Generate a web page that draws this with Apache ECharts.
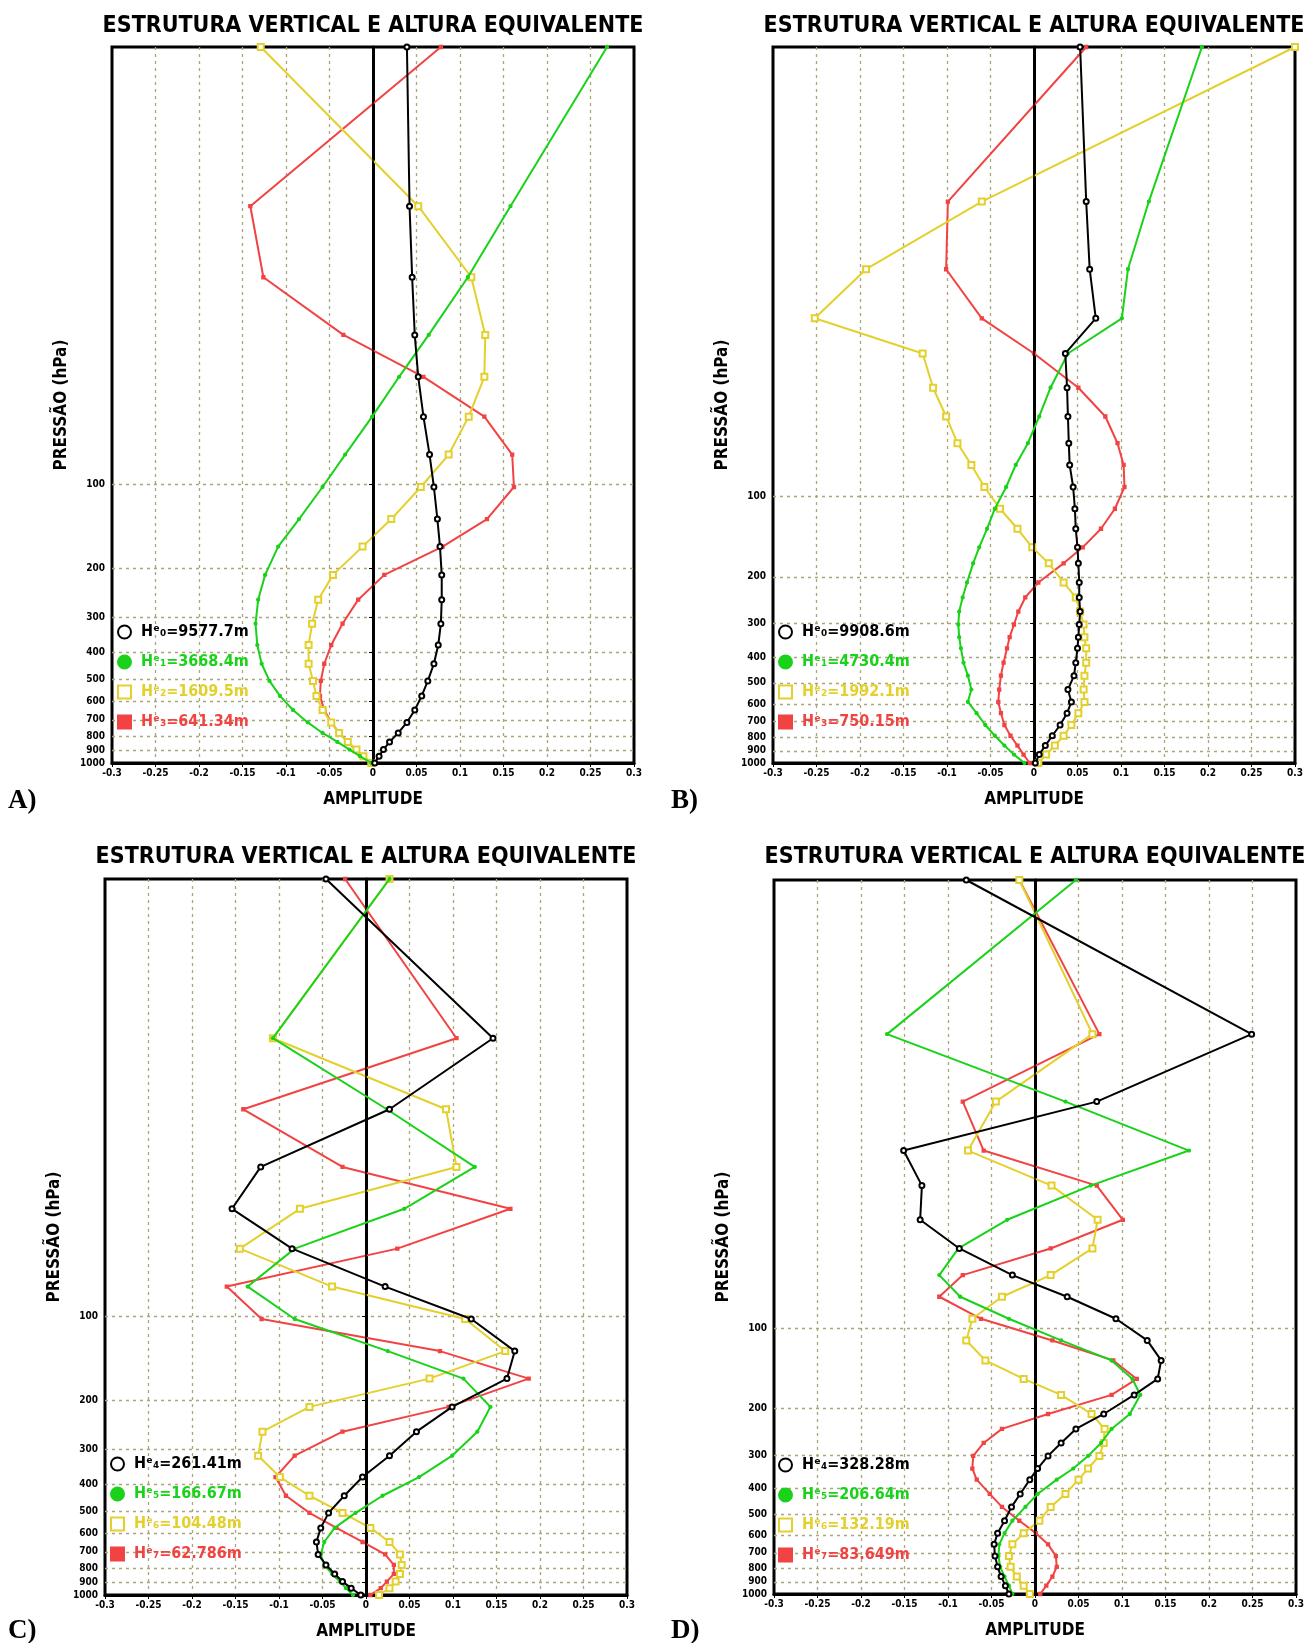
<!DOCTYPE html>
<html><head><meta charset="utf-8">
<script src="https://cdn.jsdelivr.net/npm/echarts@6/dist/echarts.min.js"></script>
<style>html,body{margin:0;padding:0;background:#fff}#c{width:1307px;height:1643px}</style>
</head><body><div id="c"></div>
<script>
// Pressure levels (hPa)
const levelsAC = [2.68, 10, 18, 29, 41, 57, 78, 102, 133, 167, 211, 259, 316, 377, 440, 507, 574, 645, 715, 780, 840, 895, 945, 1000];
const levelsBD = [2.05, 7.8, 14, 21.4, 29, 39, 50, 63, 76, 92, 111, 132, 155, 178, 210, 239, 270, 302, 337, 371, 420, 470, 530, 590, 650, 720, 790, 860, 930, 1000];
const pressureTicks = [100, 200, 300, 400, 500, 600, 700, 800, 900, 1000];

// Panel A (modes 0-3)
const A_H0 = [0.039, 0.042, 0.045, 0.048, 0.052, 0.058, 0.065, 0.070, 0.074, 0.077, 0.079, 0.079, 0.078, 0.075, 0.070, 0.063, 0.056, 0.048, 0.039, 0.029, 0.019, 0.012, 0.007, 0.002];
const A_H1 = [0.269, 0.158, 0.109, 0.064, 0.030, -0.001, -0.032, -0.058, -0.085, -0.109, -0.124, -0.132, -0.135, -0.133, -0.128, -0.119, -0.107, -0.092, -0.075, -0.058, -0.041, -0.027, -0.015, -0.002];
const A_H2 = [-0.129, 0.052, 0.113, 0.129, 0.128, 0.110, 0.087, 0.055, 0.021, -0.012, -0.046, -0.063, -0.070, -0.074, -0.074, -0.069, -0.065, -0.058, -0.048, -0.039, -0.029, -0.019, -0.011, -0.002];
const A_H3 = [0.078, -0.141, -0.126, -0.034, 0.058, 0.128, 0.160, 0.162, 0.131, 0.080, 0.013, -0.017, -0.035, -0.048, -0.056, -0.060, -0.061, -0.056, -0.048, -0.039, -0.029, -0.020, -0.012, -0.002];
// Panel B (modes 0-3)
const B_H0 = [0.053, 0.060, 0.064, 0.071, 0.036, 0.038, 0.039, 0.040, 0.041, 0.045, 0.047, 0.048, 0.050, 0.051, 0.052, 0.052, 0.053, 0.052, 0.051, 0.050, 0.048, 0.046, 0.039, 0.043, 0.038, 0.030, 0.021, 0.013, 0.006, 0.0015];
const B_H1 = [0.193, 0.132, 0.108, 0.101, 0.039, 0.019, 0.006, -0.007, -0.021, -0.032, -0.045, -0.054, -0.063, -0.070, -0.077, -0.082, -0.086, -0.087, -0.086, -0.084, -0.081, -0.076, -0.072, -0.076, -0.066, -0.056, -0.045, -0.034, -0.023, -0.011];
const B_H2 = [0.300, -0.060, -0.193, -0.252, -0.128, -0.116, -0.101, -0.088, -0.072, -0.057, -0.039, -0.019, -0.002, 0.017, 0.034, 0.048, 0.053, 0.057, 0.058, 0.060, 0.060, 0.058, 0.057, 0.058, 0.051, 0.043, 0.034, 0.024, 0.014, 0.005];
const B_H3 = [0.060, -0.099, -0.101, -0.060, 0.000, 0.051, 0.082, 0.096, 0.103, 0.104, 0.093, 0.077, 0.056, 0.034, 0.005, -0.010, -0.018, -0.023, -0.028, -0.031, -0.035, -0.038, -0.040, -0.041, -0.038, -0.034, -0.027, -0.019, -0.012, -0.005];
// Panel C (modes 4-7)
const C_H4 = [-0.046, 0.146, 0.027, -0.121, -0.154, -0.085, 0.022, 0.121, 0.171, 0.162, 0.099, 0.058, 0.027, -0.004, -0.025, -0.043, -0.052, -0.057, -0.055, -0.046, -0.036, -0.027, -0.017, -0.006];
const C_H5 = [0.027, -0.107, 0.024, 0.125, 0.044, -0.082, -0.136, -0.082, 0.025, 0.112, 0.143, 0.128, 0.099, 0.061, 0.019, -0.012, -0.036, -0.048, -0.052, -0.048, -0.039, -0.030, -0.023, -0.015];
const C_H6 = [0.027, -0.107, 0.092, 0.104, -0.076, -0.145, -0.039, 0.114, 0.160, 0.073, -0.065, -0.119, -0.124, -0.099, -0.065, -0.027, 0.005, 0.027, 0.039, 0.041, 0.039, 0.034, 0.027, 0.015];
const C_H7 = [-0.024, 0.104, -0.141, -0.027, 0.166, 0.036, -0.160, -0.120, 0.085, 0.187, 0.095, -0.027, -0.082, -0.104, -0.092, -0.065, -0.034, -0.004, 0.022, 0.032, 0.032, 0.024, 0.017, 0.005];
// Panel D (modes 4-7)
const D_H4 = [-0.079, 0.249, 0.071, -0.151, -0.130, -0.132, -0.087, -0.026, 0.037, 0.093, 0.129, 0.145, 0.141, 0.114, 0.079, 0.047, 0.030, 0.015, 0.003, -0.006, -0.017, -0.027, -0.035, -0.043, -0.047, -0.046, -0.043, -0.039, -0.034, -0.030];
const D_H5 = [0.047, -0.170, 0.035, 0.177, 0.064, -0.032, -0.088, -0.110, -0.086, -0.030, 0.030, 0.088, 0.112, 0.121, 0.109, 0.088, 0.076, 0.061, 0.044, 0.025, 0.003, -0.011, -0.026, -0.035, -0.041, -0.042, -0.040, -0.035, -0.030, -0.026];
const D_H6 = [-0.018, 0.066, -0.045, -0.077, 0.019, 0.072, 0.066, 0.018, -0.038, -0.072, -0.079, -0.057, -0.013, 0.030, 0.065, 0.080, 0.079, 0.074, 0.061, 0.050, 0.035, 0.018, 0.005, -0.013, -0.026, -0.030, -0.028, -0.021, -0.013, -0.006];
const D_H7 = [-0.018, 0.074, -0.083, -0.059, 0.071, 0.101, 0.018, -0.083, -0.110, -0.062, 0.020, 0.090, 0.117, 0.088, 0.015, -0.038, -0.059, -0.071, -0.072, -0.067, -0.052, -0.038, -0.018, 0.001, 0.015, 0.024, 0.025, 0.020, 0.013, 0.006];

const namesA = ['H\u1D49\u2080=9577.7m', 'H\u1D49\u2081=3668.4m', 'H\u1D49\u2082=1609.5m', 'H\u1D49\u2083=641.34m'];
const namesB = ['H\u1D49\u2080=9908.6m', 'H\u1D49\u2081=4730.4m', 'H\u1D49\u2082=1992.1m', 'H\u1D49\u2083=750.15m'];
const namesC = ['H\u1D49\u2084=261.41m', 'H\u1D49\u2085=166.67m', 'H\u1D49\u2086=104.48m', 'H\u1D49\u2087=62.786m'];
const namesD = ['H\u1D49\u2084=328.28m', 'H\u1D49\u2085=206.64m', 'H\u1D49\u2086=132.19m', 'H\u1D49\u2087=83.649m'];

const titleText = 'ESTRUTURA VERTICAL E ALTURA EQUIVALENTE';
const yName = 'PRESSÃO (hPa)';
const xName = 'AMPLITUDE';
const panelLabels = ['A)', 'B)', 'C)', 'D)'];

const styles = [
  {color: '#000000', symbol: 'emptyCircle', size: 5, icon: 'emptyCircle'},
  {color: '#19d219', symbol: 'circle', size: 3, icon: 'circle'},
  {color: '#e4d02c', symbol: 'emptyRect', size: 6, icon: 'emptyRect'},
  {color: '#f24343', symbol: 'rect', size: 3, icon: 'rect'}
];

const panels = [
  {grid: {left: 112, top: 47, width: 522, height: 716}, yMin: levelsAC[0], levels: levelsAC, data: [A_H0, A_H1, A_H2, A_H3], names: namesA, legend: {left: 117, top: 624}, title: [373, 26], label: [8, 801]},
  {grid: {left: 773, top: 47, width: 522, height: 716}, yMin: levelsBD[0], levels: levelsBD, data: [B_H0, B_H1, B_H2, B_H3], names: namesB, legend: {left: 778, top: 624}, title: [1034, 26], label: [671, 801]},
  {grid: {left: 105, top: 879, width: 522, height: 716}, yMin: levelsAC[0], levels: levelsAC, data: [C_H4, C_H5, C_H6, C_H7], names: namesC, legend: {left: 110, top: 1456}, title: [366, 857], label: [8, 1631]},
  {grid: {left: 774, top: 880, width: 522, height: 714}, yMin: levelsBD[0], levels: levelsBD, data: [D_H4, D_H5, D_H6, D_H7], names: namesD, legend: {left: 778, top: 1457}, title: [1035, 857], label: [671, 1631]}
];

const FONT = '"DejaVu Sans Condensed", "DejaVu Sans", sans-serif';
const gridLine = {color: '#aba57a', type: [3, 4], width: 1.3};

const option = {
  animation: false,
  backgroundColor: '#ffffff',
  grid: [], xAxis: [], yAxis: [], series: [], legend: [], graphic: []
};

panels.forEach((p, i) => {
  option.grid.push(Object.assign({show: true, borderColor: '#000', borderWidth: 3, backgroundColor: 'transparent'}, p.grid));
  option.xAxis.push({
    type: 'value', gridIndex: i, min: -0.3, max: 0.3, interval: 0.05,
    axisLine: {show: true, onZero: false, lineStyle: {color: '#000', width: 3}},
    axisTick: {show: true, length: 4, lineStyle: {color: '#000', width: 1}},
    axisLabel: {fontSize: 10, fontWeight: 'bold', color: '#000', margin: 5, fontFamily: FONT,
      formatter: v => String(+(+v).toFixed(2))},
    splitLine: {show: true, showMinLine: false, showMaxLine: false, lineStyle: gridLine},
    name: xName, nameLocation: 'middle', nameGap: 28,
    nameTextStyle: {fontSize: 17, fontWeight: 'bold', color: '#000', fontFamily: FONT}
  });
  option.yAxis.push({
    type: 'log', logBase: 10, gridIndex: i, min: p.yMin, max: 1000, inverse: true,
    axisLine: {show: true, lineStyle: {color: '#000', width: 3}},
    axisTick: {show: true, length: 4, customValues: pressureTicks, lineStyle: {color: '#000', width: 1}},
    axisLabel: {customValues: pressureTicks, fontSize: 10, fontWeight: 'bold', color: '#000', margin: 7, fontFamily: FONT,
      formatter: v => String(Math.round(v))},
    splitLine: {show: true, showMinLine: true, showMaxLine: true, lineStyle: gridLine},
    minorTick: {show: false}, minorSplitLine: {show: false},
    name: yName, nameLocation: 'middle', nameGap: 42, nameRotate: 90,
    nameTextStyle: {fontSize: 17, fontWeight: 'bold', color: '#000', fontFamily: FONT}
  });
  p.data.forEach((vals, k) => {
    const st = styles[k];
    const s = {
      type: 'line', name: p.names[k], xAxisIndex: i, yAxisIndex: i,
      data: vals.map((v, j) => [v, p.levels[j]]),
      symbol: st.symbol, symbolSize: st.size, showSymbol: true,
      lineStyle: {color: st.color, width: 2},
      itemStyle: {color: st.color, borderColor: st.color, borderWidth: 1.3},
      emphasis: {disabled: true}, z: 3 + (3 - k)
    };
    if (k === 0) {
      s.markLine = {silent: true, symbol: ['none', 'none'], label: {show: false}, animation: false,
        lineStyle: {color: '#000', width: 1.6, type: 'solid'}, emphasis: {disabled: true},
        data: [{xAxis: 0}]};
    }
    option.series.push(s);
  });
  option.legend.push({
    orient: 'vertical', left: p.legend.left, top: p.legend.top,
    itemWidth: 13, itemHeight: 13, itemGap: 14, selectedMode: false, padding: 0,
    data: p.names.map((n, k) => ({name: n, icon: styles[k].icon, textStyle: {color: styles[k].color}})),
    textStyle: {fontSize: 16, fontWeight: 'bold', fontFamily: FONT, padding: [0, 0, 0, 5]}
  });
  option.graphic.push({
    type: 'text', x: p.title[0], y: p.title[1], silent: true,
    style: {text: titleText, font: 'bold 23px ' + FONT, fill: '#000', align: 'center', verticalAlign: 'middle', textAlign: 'center', textVerticalAlign: 'middle'}
  });
  option.graphic.push({
    type: 'text', x: p.label[0], y: p.label[1], silent: true,
    style: {text: panelLabels[i], font: 'bold 27px "Liberation Serif", "Times New Roman", serif', fill: '#000', align: 'left', verticalAlign: 'middle', textAlign: 'left', textVerticalAlign: 'middle'}
  });
});

const chart = echarts.init(document.getElementById('c'), null, {renderer: 'canvas'});
chart.setOption(option);
</script>
</body></html>
